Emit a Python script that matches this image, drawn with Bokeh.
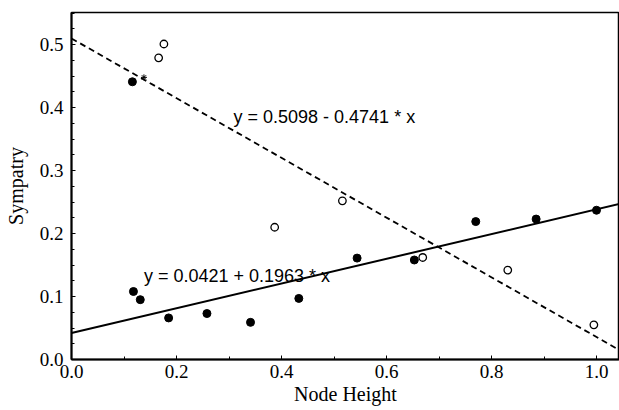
import numpy as np
from bokeh.plotting import figure
from bokeh.models import Range1d, FixedTicker, PrintfTickFormatter, Label
from bokeh.embed import file_html
from bokeh.resources import INLINE

# Data
filled_x = [0.116, 0.118, 0.131, 0.185, 0.258, 0.341, 0.433, 0.544, 0.653, 0.770, 0.885, 1.000]
filled_y = [0.441, 0.108, 0.095, 0.066, 0.073, 0.059, 0.097, 0.161, 0.158, 0.219, 0.223, 0.237]

open_x = [0.176, 0.166, 0.387, 0.516, 0.669, 0.831, 0.995]
open_y = [0.501, 0.479, 0.210, 0.252, 0.162, 0.142, 0.055]

star_x = [0.138]
star_y = [0.448]

# Regression lines: y = a + b * x
solid_a, solid_b = 0.0421, 0.1963
dashed_a, dashed_b = 0.5098, -0.4741
eq_solid = "y = 0.0421 + 0.1963 * x"
eq_dashed = "y = 0.5098 - 0.4741 * x"

x_ticks = [0.0, 0.2, 0.4, 0.6, 0.8, 1.0]
x_minor = [0.1, 0.3, 0.5, 0.7, 0.9]
y_ticks = [0.0, 0.1, 0.2, 0.3, 0.4, 0.5]
y_minor = [round(0.025 * i, 3) for i in range(23)]

SERIF = "Liberation Serif"
SANS = "Liberation Sans"

p = figure(width=619, height=410, output_backend="svg", toolbar_location=None,
           x_range=Range1d(0.0, 1.0438), y_range=Range1d(0.0, 0.551),
           min_border_left=71, min_border_right=0, min_border_top=12, min_border_bottom=51)

p.grid.visible = False
p.background_fill_color = "white"
p.border_fill_color = "white"
p.outline_line_color = "black"
p.outline_line_width = 1.5

for ax in (p.xaxis[0], p.yaxis[0]):
    ax.axis_line_width = 2
    ax.axis_line_color = "black"
    ax.major_tick_in = 4
    ax.major_tick_out = 0
    ax.minor_tick_in = 3
    ax.minor_tick_out = 0
    ax.major_tick_line_color = "black"
    ax.minor_tick_line_color = "black"
    ax.major_label_text_font = SERIF
    ax.major_label_text_font_size = "19px"
    ax.major_label_text_color = "black"
    ax.formatter = PrintfTickFormatter(format="%.1f")
    ax.axis_label_text_font = SERIF
    ax.axis_label_text_font_style = "normal"
    ax.axis_label_text_color = "black"
    ax.axis_label_text_font_size = "20px"

p.xaxis[0].ticker = FixedTicker(ticks=x_ticks, minor_ticks=x_minor)
p.yaxis[0].ticker = FixedTicker(ticks=y_ticks, minor_ticks=y_minor)
p.xaxis[0].major_label_standoff = 5
p.yaxis[0].major_label_standoff = 8

p.yaxis[0].axis_label = "Sympatry"
p.yaxis[0].axis_label_standoff = 10

p.xaxis[0].axis_label = "Node Height"
p.xaxis[0].axis_label_standoff = 2

# regression lines
xs = np.array([0.0, 1.1])
p.line(xs, solid_a + solid_b * xs, line_color="black", line_width=2)
p.line(xs, dashed_a + dashed_b * xs, line_color="black", line_width=1.8, line_dash="6 4")

# points
p.scatter(filled_x, filled_y, size=8, marker="circle", fill_color="black", line_color="black")
p.scatter(open_x, open_y, size=7.5, marker="circle", fill_color="white", line_color="black",
          line_width=1.3)
p.scatter(star_x, star_y, size=6, marker="asterisk", line_color="black", line_width=1)

# equation labels
p.add_layout(Label(x=0.3086, y=0.385, text=eq_dashed, text_align="left",
                   text_baseline="alphabetic", text_font=SANS, text_font_size="18px",
                   text_color="black"))
p.add_layout(Label(x=0.138, y=0.132, text=eq_solid, text_align="left",
                   text_baseline="alphabetic", text_font=SANS, text_font_size="18px",
                   text_color="black"))

open("out.html", "w").write(file_html(p, INLINE))
